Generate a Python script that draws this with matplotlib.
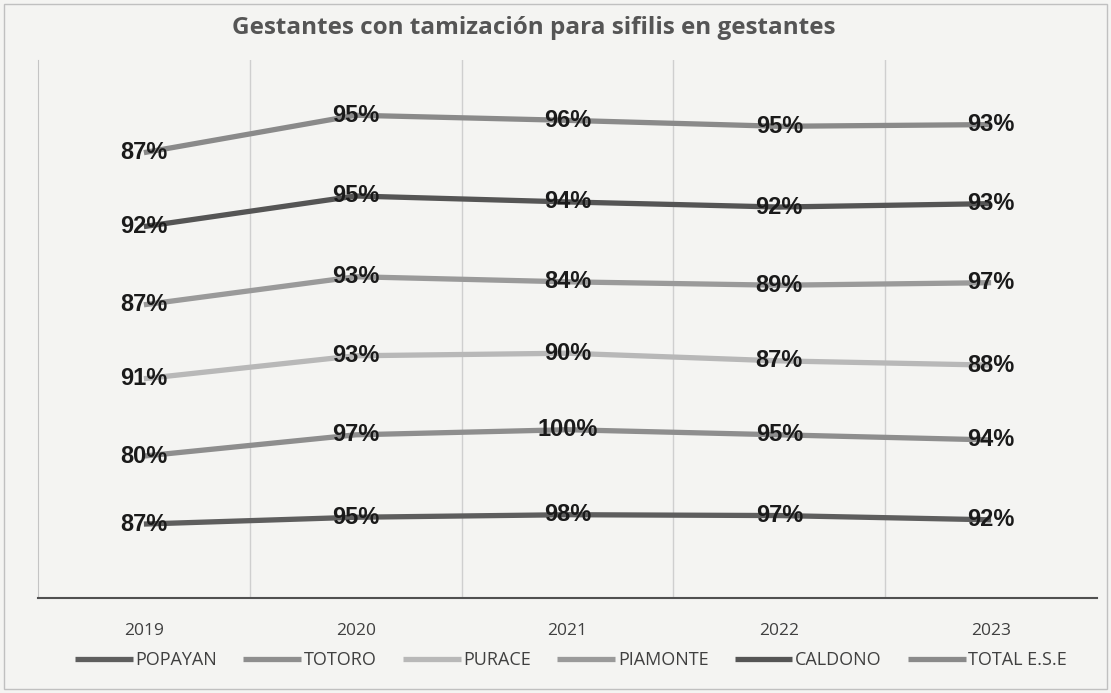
import matplotlib
matplotlib.use("Agg")
import matplotlib.pyplot as plt
import numpy as np

years = ["2019", "2020", "2021", "2022", "2023"]
series_names = ["POPAYAN", "TOTORO", "PURACE", "PIAMONTE", "CALDONO", "TOTAL E.S.E"]
popayan = [87, 95, 98, 97, 92]
totoro = [80, 97, 100, 95, 94]
purace = [91, 93, 90, 87, 88]
piamonte = [87, 93, 84, 89, 97]
caldono = [92, 95, 94, 92, 93]
total_ese = [87, 95, 96, 95, 93]
series_values = [popayan, totoro, purace, piamonte, caldono, total_ese]
colors = ["#5e5e5e", "#8e8e8e", "#b8b8b8", "#9a9a9a", "#555555", "#8a8a8a"]

plt.rcParams['font.family'] = ['Liberation Sans', 'DejaVu Sans']

fig = plt.figure(figsize=(11.11, 6.93), dpi=100)
fig.patch.set_facecolor("#f4f4f2")
ax = fig.add_axes([38/1111, 1-598/693, (1097-38)/1111, (598-60)/693])
ax.set_facecolor("#f4f4f2")

x = np.arange(len(years))
cum = np.zeros(len(years))
handles = []
for name, vals, c in zip(series_names, series_values, colors):
    cum = cum + np.array(vals)
    h, = ax.plot(x, cum, color=c, lw=3.8, solid_capstyle='butt', label=name, zorder=2)
    handles.append(h)
    for xi, yi, v in zip(x, cum, vals):
        ax.text(xi, yi, f"{v}%", ha='center', va='center', fontsize=17,
                fontweight='bold', color='#1a1a1a', zorder=3)

ax.set_xlim(-0.5, 4.5)
ax.set_ylim(0, 633)
ax.set_yticks([])
ax.set_xticks(x)
ax.set_xticklabels(years, fontsize=12.5, color="#404040", family=['Open Sans', 'DejaVu Sans'])
ax.tick_params(axis='x', length=0, pad=18)
for b in [0.5, 1.5, 2.5, 3.5]:
    ax.axvline(b, color="#cfcfcf", lw=1, zorder=1)
for s in ['top', 'right']:
    ax.spines[s].set_visible(False)
ax.spines['left'].set_color("#c4c4c4")
ax.spines['bottom'].set_color("#505050")
ax.spines['bottom'].set_linewidth(1.5)

fig.suptitle("Gestantes con tamización para sifilis en gestantes", x=534/1111, y=1-28/693,
             va='center', fontsize=17.5, fontweight='bold', color="#555555",
             family=['Open Sans', 'DejaVu Sans'])

leg = fig.legend(handles=handles, labels=series_names, loc='center', ncol=6,
                 bbox_to_anchor=(571/1111, 1-660/693), frameon=False,
                 handlelength=3.2, handletextpad=0.15, columnspacing=1.45,
                 prop={'family': ['Open Sans', 'DejaVu Sans'], 'size': 13})
for t in leg.get_texts():
    t.set_color("#404040")

fig.add_artist(plt.Rectangle((4/1111, 4/693), 1103/1111, 685/693, transform=fig.transFigure,
                             fill=False, edgecolor="#c0c0c0", lw=1))

fig.savefig("out.png", dpi=100, facecolor=fig.get_facecolor())
